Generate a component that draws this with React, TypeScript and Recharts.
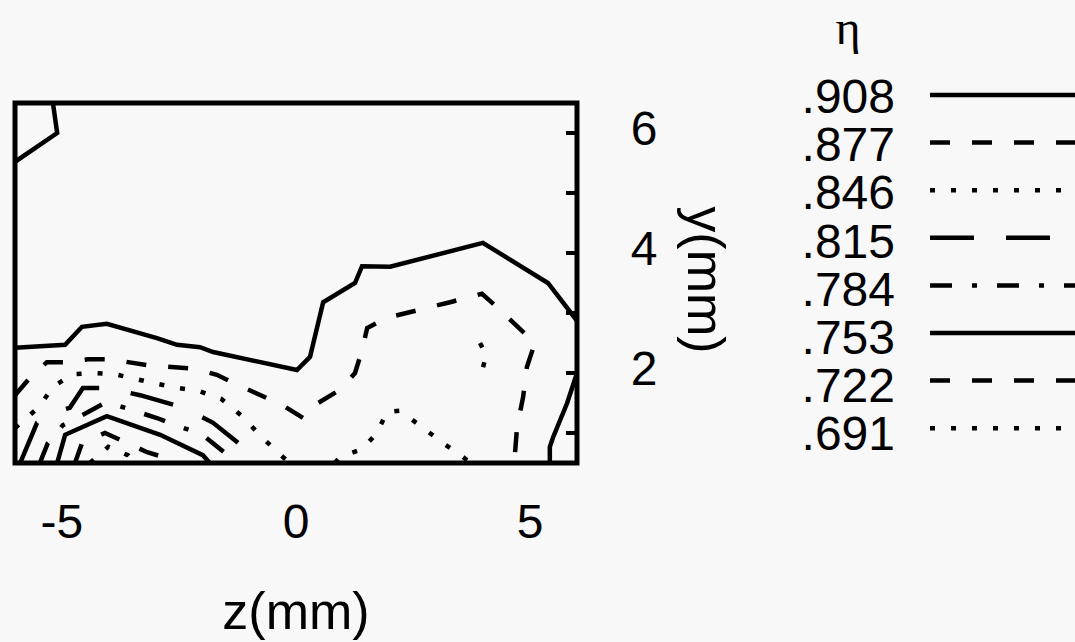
import React from "react"
import {
  LineChart,
  Line,
  XAxis,
  YAxis,
  ReferenceArea,
  Legend,
} from "recharts"

// contour levels of eta, top to bottom of the key
const levels = [".908", ".877", ".846", ".815", ".784", ".753", ".722", ".691"]
const levelDash = ["", "20 22", "5 16", "44 32", "22 20 5 20", "", "20 22", "5 16"]

const zTicks = [-5, 0, 5]
const yTicks = [1, 2, 3, 4, 5, 6]
const yLabelled = [2, 4, 6]

// contour paths, z(mm) / y(mm)
const c908Corner = [
  { z: -5.19, y: 6.5 },
  { z: -5.1, y: 6.0 },
  { z: -6.0, y: 5.52 },
]

const c908Main = [
  { z: -6.0, y: 2.42 },
  { z: -4.93, y: 2.47 },
  { z: -4.57, y: 2.77 },
  { z: -4.04, y: 2.82 },
  { z: -2.97, y: 2.58 },
  { z: -2.54, y: 2.47 },
  { z: -2.05, y: 2.43 },
  { z: -1.77, y: 2.35 },
  { z: 0.02, y: 2.05 },
  { z: 0.3, y: 2.27 },
  { z: 0.58, y: 3.18 },
  { z: 1.26, y: 3.5 },
  { z: 1.41, y: 3.78 },
  { z: 2.01, y: 3.77 },
  { z: 3.99, y: 4.17 },
  { z: 5.38, y: 3.5 },
  { z: 6.0, y: 2.87 },
]

const c908Right = [
  { z: 6.0, y: 2.0 },
  { z: 5.79, y: 1.5 },
  { z: 5.49, y: 0.93 },
  { z: 5.42, y: 0.77 },
  { z: 5.42, y: 0.5 },
]

const c877 = [
  { z: -6.0, y: 1.63 },
  { z: -5.68, y: 1.92 },
  { z: -5.32, y: 2.18 },
  { z: -4.89, y: 2.18 },
  { z: -4.44, y: 2.23 },
  { z: -3.97, y: 2.23 },
  { z: -3.18, y: 2.13 },
  { z: -2.16, y: 2.07 },
  { z: -1.69, y: 1.97 },
  { z: -1.24, y: 1.8 },
  { z: -0.3, y: 1.47 },
  { z: 0.15, y: 1.25 },
  { z: 0.41, y: 1.47 },
  { z: 0.94, y: 1.72 },
  { z: 1.26, y: 2.0 },
  { z: 1.41, y: 2.38 },
  { z: 1.52, y: 2.75 },
  { z: 1.94, y: 2.92 },
  { z: 3.29, y: 3.18 },
  { z: 3.97, y: 3.32 },
  { z: 4.19, y: 3.17 },
  { z: 5.1, y: 2.5 },
  { z: 4.93, y: 2.1 },
  { z: 4.85, y: 1.6 },
  { z: 4.72, y: 1.1 },
  { z: 4.66, y: 0.5 },
]

const c846Left = [
  { z: -6.0, y: 1.08 },
  { z: -5.83, y: 1.2 },
  { z: -5.49, y: 1.43 },
  { z: -5.19, y: 1.77 },
  { z: -4.78, y: 1.98 },
  { z: -4.33, y: 2.0 },
  { z: -3.87, y: 1.98 },
  { z: -3.42, y: 1.9 },
  { z: -2.97, y: 1.82 },
  { z: -2.52, y: 1.75 },
  { z: -2.07, y: 1.7 },
  { z: -1.6, y: 1.57 },
  { z: -1.15, y: 1.28 },
  { z: -0.73, y: 0.93 },
  { z: -0.28, y: 0.6 },
  { z: -0.13, y: 0.5 },
]

const c846Mid = [
  { z: 0.83, y: 0.5 },
  { z: 0.94, y: 0.6 },
  { z: 1.41, y: 0.73 },
  { z: 1.73, y: 1.0 },
  { z: 1.94, y: 1.35 },
  { z: 2.22, y: 1.37 },
  { z: 2.69, y: 1.1 },
  { z: 3.14, y: 0.83 },
  { z: 3.57, y: 0.6 },
  { z: 3.72, y: 0.5 },
]

const c846Spot = [
  { z: 3.93, y: 2.5 },
  { z: 4.06, y: 2.3 },
  { z: 3.99, y: 2.08 },
]

const c815 = [
  { z: -5.89, y: 0.5 },
  { z: -5.53, y: 1.17 },
  { z: -5.15, y: 1.35 },
  { z: -4.83, y: 1.42 },
  { z: -4.55, y: 1.75 },
  { z: -4.04, y: 1.75 },
  { z: -3.33, y: 1.63 },
  { z: -2.43, y: 1.43 },
  { z: -1.77, y: 1.17 },
  { z: -0.7, y: 0.5 },
]

const c784 = [
  { z: -5.47, y: 0.5 },
  { z: -5.3, y: 0.83 },
  { z: -4.98, y: 1.13 },
  { z: -4.44, y: 1.35 },
  { z: -4.04, y: 1.52 },
  { z: -3.5, y: 1.38 },
  { z: -2.97, y: 1.25 },
  { z: -2.54, y: 1.12 },
  { z: -2.01, y: 0.98 },
  { z: -1.52, y: 0.67 },
  { z: -1.26, y: 0.5 },
]

const c753 = [
  { z: -5.1, y: 0.5 },
  { z: -4.93, y: 0.97 },
  { z: -4.04, y: 1.28 },
  { z: -2.9, y: 0.97 },
  { z: -1.99, y: 0.63 },
  { z: -1.84, y: 0.5 },
]

const c722 = [
  { z: -4.72, y: 0.5 },
  { z: -4.57, y: 0.83 },
  { z: -4.08, y: 1.0 },
  { z: -3.65, y: 0.85 },
  { z: -3.18, y: 0.68 },
  { z: -2.75, y: 0.58 },
  { z: -2.58, y: 0.5 },
]

const c691 = [
  { z: -4.4, y: 0.5 },
  { z: -4.01, y: 0.77 },
  { z: -3.59, y: 0.63 },
  { z: -3.44, y: 0.5 },
]

const contours = [
  { id: "908a", level: 0, data: c908Corner },
  { id: "908b", level: 0, data: c908Main },
  { id: "908c", level: 0, data: c908Right },
  { id: "877", level: 1, data: c877 },
  { id: "846a", level: 2, data: c846Left },
  { id: "846b", level: 2, data: c846Mid },
  { id: "846c", level: 2, data: c846Spot },
  { id: "815", level: 3, data: c815 },
  { id: "784", level: 4, data: c784 },
  { id: "753", level: 5, data: c753 },
  { id: "722", level: 6, data: c722 },
  { id: "691", level: 7, data: c691 },
]

const FONT = "'Liberation Sans', Arial, sans-serif"

function XTick({ x, y, payload }: any) {
  return (
    <text x={x} y={y + 75} textAnchor="middle" fontSize={48} fontFamily={FONT} fill="#000">
      {payload.value}
    </text>
  )
}

function YTick({ x, y, payload }: any) {
  return (
    <g>
      <line x1={x - 11} y1={y} x2={x} y2={y} stroke="#000" strokeWidth={4} />
      {yLabelled.includes(payload.value) && (
        <text x={x + 67} y={y + 12} textAnchor="middle" fontSize={48} fontFamily={FONT} fill="#000">
          {payload.value}
        </text>
      )}
    </g>
  )
}

function ZLabel({ viewBox }: any) {
  const { x, y, width } = viewBox
  return (
    <text x={x + width / 2} y={y + 166} textAnchor="middle" fontSize={52} fontFamily={FONT} fill="#000">
      z(mm)
    </text>
  )
}

function YLabel({ viewBox }: any) {
  const { x, y, height } = viewBox
  const cx = x + 129
  const cy = y + height / 2 - 3
  return (
    <text
      x={cx}
      y={cy}
      textAnchor="middle"
      dominantBaseline="central"
      fontSize={52}
      fontFamily={FONT}
      fill="#000"
      transform={`rotate(90, ${cx}, ${cy})`}
    >
      y(mm)
    </text>
  )
}

function EtaKey() {
  return (
    <svg width={295} height={470}>
      <text x={68} y={44} textAnchor="middle" fontSize={48} fontFamily="'Liberation Serif', serif" fill="#000">
        η
      </text>
      {levels.map((lv, i) => (
        <g key={lv}>
          <text x={115} y={113 + i * 48.2} textAnchor="end" fontSize={48} fontFamily={FONT} fill="#000">
            {lv}
          </text>
          <line
            x1={150}
            x2={295}
            y1={95 + i * 47.6}
            y2={95 + i * 47.6}
            stroke="#000"
            strokeWidth={4.5}
            strokeDasharray={levelDash[i] || undefined}
          />
        </g>
      ))}
    </svg>
  )
}

export default function App() {
  return (
    <div style={{ position: "absolute", left: 0, top: 0, width: 1075, height: 642, background: "#f8f8f8" }}>
      <LineChart width={1075} height={642} margin={{ top: 103, left: 15, right: 338, bottom: 0 }}>
        <XAxis
          type="number"
          dataKey="z"
          domain={[-6, 6]}
          allowDataOverflow
          ticks={zTicks}
          interval={0}
          axisLine={false}
          tickLine={false}
          tickSize={0}
          tickMargin={0}
          height={179}
          tick={<XTick />}
          label={<ZLabel />}
        />
        <YAxis
          type="number"
          dataKey="y"
          orientation="right"
          domain={[0.5, 6.5]}
          allowDataOverflow
          ticks={yTicks}
          interval={0}
          axisLine={false}
          tickLine={false}
          tickSize={0}
          tickMargin={0}
          width={160}
          tick={<YTick />}
          label={<YLabel />}
        />
        <ReferenceArea x1={-6} x2={6} y1={0.5} y2={6.5} fill="none" stroke="#000" strokeWidth={5} />
        {contours.map((c) => (
          <Line
            key={c.id}
            data={c.data}
            dataKey="y"
            type="linear"
            stroke="#000"
            strokeWidth={4.5}
            strokeDasharray={levelDash[c.level] || undefined}
            dot={false}
            activeDot={false}
            isAnimationActive={false}
          />
        ))}
        <Legend
          layout="vertical"
          align="center"
          verticalAlign="middle"
          wrapperStyle={{ position: "absolute", left: 780, top: 0, width: 295, height: 470 }}
          content={() => <EtaKey />}
        />
      </LineChart>
    </div>
  )
}
